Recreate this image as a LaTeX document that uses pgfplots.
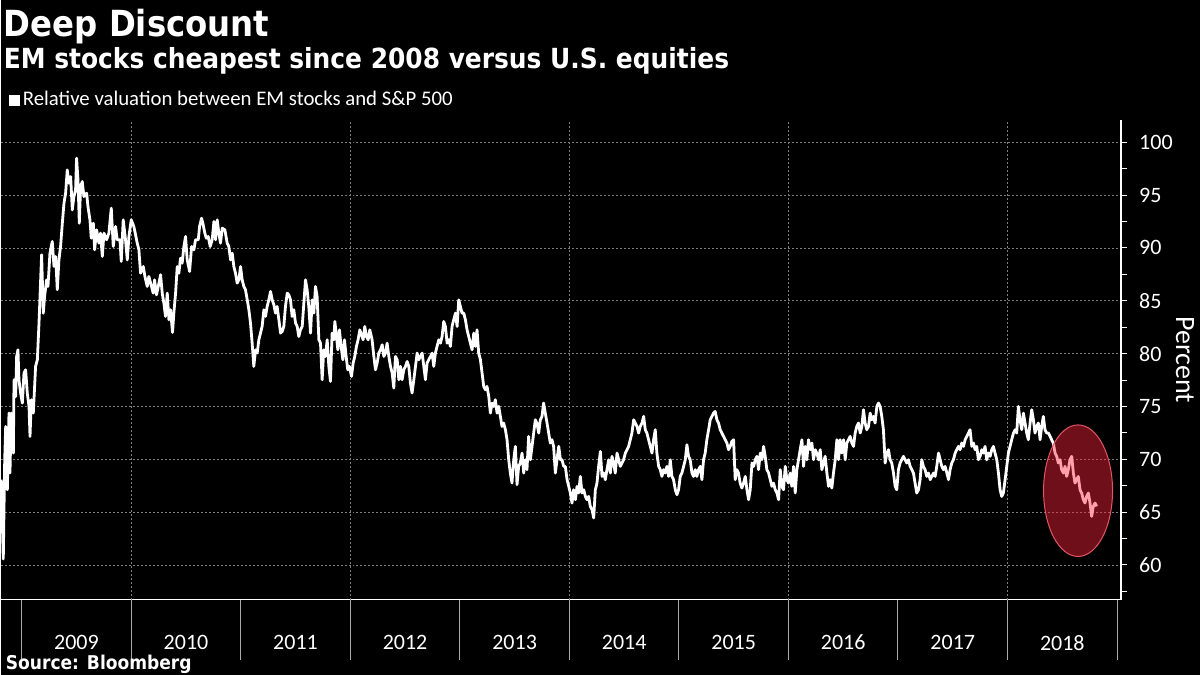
\documentclass[border=0pt]{standalone}
\usepackage{fontspec}
\setmainfont{Carlito}
\newfontfamily\titlefont{DejaVu Sans Condensed}
\usepackage{pgfplots}
\usepackage{pgfplotstable}
\pgfplotsset{compat=1.18}
\definecolor{gridgray}{RGB}{125,125,125}
\definecolor{tickgray}{RGB}{170,170,170}
\definecolor{ellfill}{RGB}{255,35,58}
\definecolor{ellline}{RGB}{225,85,100}

\pgfplotstableread{
year value
2008.814 68.07
2008.832 60.57
2008.845 69.96
2008.854 73.11
2008.869 67.12
2008.884 74.37
2008.893 68.70
2008.905 74.37
2008.924 70.59
2008.930 77.53
2008.945 75.95
2008.954 79.73
2008.966 80.36
2008.975 77.53
2008.990 76.27
2009.006 75.32
2009.021 78.16
2009.036 78.47
2009.051 76.27
2009.067 75.00
2009.076 72.17
2009.088 75.64
2009.106 74.37
2009.127 78.79
2009.143 79.42
2009.158 82.88
2009.173 86.98
2009.182 89.35
2009.197 83.83
2009.209 85.41
2009.228 86.98
2009.240 86.35
2009.258 89.50
2009.279 90.61
2009.295 88.24
2009.310 89.19
2009.325 86.04
2009.340 88.87
2009.355 90.13
2009.371 92.34
2009.386 94.23
2009.401 95.18
2009.416 97.38
2009.431 96.12
2009.447 96.75
2009.462 93.60
2009.477 94.86
2009.492 95.49
2009.501 98.49
2009.514 96.44
2009.526 92.34
2009.538 95.81
2009.553 96.28
2009.568 94.86
2009.593 95.18
2009.605 93.92
2009.623 92.66
2009.635 90.92
2009.654 92.34
2009.666 89.82
2009.684 91.71
2009.705 90.45
2009.720 91.40
2009.736 89.19
2009.751 91.40
2009.775 90.77
2009.796 91.40
2009.818 93.76
2009.836 90.13
2009.857 92.03
2009.872 90.77
2009.897 90.77
2009.909 88.72
2009.927 92.66
2009.948 90.77
2009.964 88.87
2009.979 91.08
2010.000 92.66
2010.024 92.03
2010.055 90.45
2010.070 89.82
2010.085 87.61
2010.110 88.24
2010.125 87.30
2010.146 86.35
2010.161 87.30
2010.177 86.67
2010.201 85.72
2010.213 86.98
2010.231 85.56
2010.253 86.67
2010.268 87.46
2010.283 85.72
2010.298 84.78
2010.313 83.52
2010.329 85.72
2010.344 83.20
2010.359 84.15
2010.377 82.00
2010.389 83.83
2010.405 85.72
2010.420 88.24
2010.435 87.61
2010.450 89.03
2010.465 88.56
2010.481 90.13
2010.496 91.08
2010.511 88.87
2010.533 87.77
2010.551 90.13
2010.572 89.82
2010.587 90.77
2010.612 90.77
2010.624 92.03
2010.642 92.81
2010.654 92.34
2010.672 91.40
2010.685 90.92
2010.703 91.08
2010.721 90.13
2010.739 90.77
2010.755 92.50
2010.770 90.77
2010.785 92.66
2010.800 91.40
2010.815 90.45
2010.831 91.87
2010.855 91.71
2010.876 90.45
2010.891 90.13
2010.907 88.87
2010.922 89.50
2010.937 88.24
2010.952 87.61
2010.967 86.67
2010.983 86.98
2010.998 88.24
2011.013 86.98
2011.028 86.35
2011.043 86.04
2011.059 85.09
2011.074 84.15
2011.089 82.88
2011.104 80.99
2011.119 78.79
2011.135 80.36
2011.150 80.05
2011.165 81.31
2011.180 81.94
2011.195 82.57
2011.211 84.15
2011.226 83.52
2011.241 84.46
2011.256 85.09
2011.272 85.88
2011.287 85.09
2011.302 84.62
2011.317 83.83
2011.332 84.46
2011.348 83.20
2011.363 81.94
2011.378 82.10
2011.393 82.57
2011.408 84.46
2011.424 85.72
2011.439 85.56
2011.454 85.09
2011.469 83.52
2011.484 84.15
2011.500 82.88
2011.515 82.57
2011.530 81.62
2011.545 82.25
2011.561 82.57
2011.576 84.78
2011.591 86.98
2011.606 86.04
2011.621 84.46
2011.637 81.94
2011.652 85.09
2011.667 83.83
2011.682 86.35
2011.697 85.41
2011.713 81.31
2011.728 80.99
2011.743 77.53
2011.758 80.36
2011.773 79.73
2011.789 81.31
2011.804 78.79
2011.819 77.37
2011.834 81.94
2011.849 81.31
2011.859 83.04
2011.871 81.94
2011.886 80.36
2011.901 82.25
2011.916 80.68
2011.932 79.42
2011.947 81.31
2011.962 79.73
2011.977 78.47
2011.992 78.79
2012.011 77.84
2012.026 79.10
2012.041 79.73
2012.056 80.68
2012.071 81.31
2012.087 82.25
2012.102 81.78
2012.117 81.31
2012.132 82.57
2012.147 81.62
2012.163 81.31
2012.178 82.25
2012.199 81.31
2012.215 79.73
2012.230 78.47
2012.245 79.10
2012.260 80.05
2012.276 80.36
2012.291 80.84
2012.306 79.73
2012.321 80.05
2012.336 80.99
2012.352 79.73
2012.367 78.79
2012.382 78.16
2012.397 76.74
2012.412 79.73
2012.428 79.42
2012.443 77.53
2012.458 78.79
2012.473 77.53
2012.488 78.47
2012.504 78.79
2012.519 79.26
2012.534 78.79
2012.549 77.21
2012.564 76.27
2012.580 77.53
2012.595 78.79
2012.610 80.05
2012.625 79.42
2012.640 79.73
2012.656 80.05
2012.671 78.79
2012.686 77.53
2012.701 79.10
2012.716 79.42
2012.732 79.73
2012.747 80.05
2012.762 78.79
2012.777 80.05
2012.792 80.68
2012.808 81.31
2012.823 80.99
2012.838 81.62
2012.853 83.04
2012.868 82.57
2012.884 80.99
2012.899 81.31
2012.914 80.68
2012.929 82.57
2012.944 83.20
2012.960 83.83
2012.975 82.57
2012.990 85.09
2013.005 84.46
2013.020 83.83
2013.036 83.83
2013.051 83.20
2013.066 82.25
2013.081 81.62
2013.096 80.99
2013.112 80.36
2013.127 81.94
2013.142 80.68
2013.157 82.25
2013.172 80.05
2013.188 79.42
2013.203 78.16
2013.218 76.90
2013.233 76.58
2013.248 76.90
2013.264 75.95
2013.279 74.37
2013.294 75.32
2013.309 75.00
2013.324 75.64
2013.340 74.37
2013.355 75.00
2013.370 74.06
2013.385 73.11
2013.400 73.43
2013.416 72.80
2013.431 71.85
2013.446 69.96
2013.461 68.70
2013.476 67.75
2013.492 69.96
2013.507 71.22
2013.522 67.60
2013.537 69.33
2013.552 69.65
2013.568 70.59
2013.583 68.70
2013.598 69.96
2013.613 69.02
2013.628 72.17
2013.644 69.96
2013.659 71.22
2013.674 72.48
2013.689 73.74
2013.704 73.43
2013.720 72.48
2013.735 73.74
2013.750 74.06
2013.765 75.32
2013.780 74.37
2013.796 73.43
2013.811 72.48
2013.826 71.54
2013.841 71.85
2013.856 71.22
2013.872 68.70
2013.887 69.96
2013.903 71.22
2013.918 69.96
2013.933 69.96
2013.948 69.33
2013.963 69.33
2013.979 68.07
2013.994 67.44
2014.009 66.81
2014.024 65.86
2014.039 67.12
2014.055 66.18
2014.070 67.44
2014.085 66.81
2014.100 68.38
2014.115 66.81
2014.131 67.12
2014.146 66.49
2014.161 66.18
2014.176 66.49
2014.191 65.55
2014.207 65.23
2014.222 64.45
2014.237 67.12
2014.252 67.75
2014.267 69.33
2014.283 70.75
2014.298 68.38
2014.313 68.70
2014.328 68.07
2014.343 69.02
2014.359 69.96
2014.374 68.70
2014.389 70.28
2014.404 69.65
2014.419 68.70
2014.435 70.59
2014.450 69.96
2014.465 69.33
2014.480 69.65
2014.495 69.96
2014.511 70.59
2014.526 70.91
2014.541 71.22
2014.556 71.85
2014.571 72.48
2014.587 73.74
2014.602 73.43
2014.617 73.11
2014.632 72.48
2014.647 73.11
2014.663 73.43
2014.678 74.06
2014.693 72.80
2014.708 72.48
2014.723 71.85
2014.739 71.22
2014.754 70.59
2014.769 71.85
2014.784 72.80
2014.799 70.59
2014.815 69.33
2014.830 69.02
2014.845 68.38
2014.860 69.02
2014.875 68.70
2014.891 69.33
2014.906 68.38
2014.921 69.96
2014.936 68.38
2014.951 68.07
2014.967 67.12
2014.982 66.65
2014.997 67.12
2015.012 68.38
2015.027 68.70
2015.043 69.33
2015.058 69.96
2015.073 71.38
2015.088 70.28
2015.103 69.96
2015.119 68.70
2015.134 68.38
2015.149 69.02
2015.164 68.38
2015.179 69.02
2015.195 69.33
2015.210 68.07
2015.225 69.96
2015.240 70.59
2015.255 71.85
2015.271 72.80
2015.286 73.74
2015.301 74.06
2015.316 74.37
2015.331 74.53
2015.347 73.74
2015.362 73.43
2015.377 72.80
2015.392 72.48
2015.407 72.17
2015.423 71.85
2015.438 71.54
2015.453 70.91
2015.468 71.22
2015.483 71.69
2015.499 71.85
2015.514 68.07
2015.529 69.02
2015.544 68.70
2015.559 67.75
2015.575 67.28
2015.590 67.75
2015.606 68.38
2015.621 67.12
2015.636 66.18
2015.651 67.12
2015.667 69.65
2015.682 69.33
2015.697 69.96
2015.712 70.28
2015.727 69.02
2015.743 70.59
2015.758 69.96
2015.773 71.22
2015.788 70.28
2015.803 69.02
2015.819 68.70
2015.834 68.07
2015.849 67.44
2015.864 67.75
2015.879 67.12
2015.895 66.81
2015.910 66.18
2015.925 69.02
2015.940 67.44
2015.955 67.12
2015.971 69.33
2015.986 68.07
2016.001 67.75
2016.016 68.70
2016.031 67.44
2016.047 69.33
2016.062 66.81
2016.077 69.02
2016.092 69.96
2016.107 70.91
2016.123 71.85
2016.138 69.33
2016.153 71.22
2016.168 69.96
2016.183 71.85
2016.199 70.91
2016.214 71.54
2016.229 69.96
2016.244 70.91
2016.259 70.59
2016.275 69.96
2016.290 70.91
2016.305 69.02
2016.320 69.65
2016.335 70.28
2016.351 68.70
2016.366 67.44
2016.381 68.07
2016.396 67.28
2016.411 68.70
2016.427 69.96
2016.442 71.85
2016.457 69.96
2016.472 71.85
2016.487 70.59
2016.503 71.85
2016.518 69.96
2016.533 71.54
2016.548 71.85
2016.563 72.17
2016.579 71.54
2016.594 71.22
2016.609 72.48
2016.624 73.11
2016.639 73.43
2016.655 72.48
2016.670 73.11
2016.685 74.69
2016.700 73.43
2016.715 72.80
2016.731 73.11
2016.746 74.37
2016.761 73.74
2016.776 74.06
2016.791 73.43
2016.807 75.00
2016.822 75.32
2016.837 75.00
2016.852 74.06
2016.867 72.80
2016.883 69.65
2016.898 70.59
2016.913 70.91
2016.928 69.96
2016.943 69.65
2016.959 68.70
2016.974 67.44
2016.989 67.12
2017.004 69.02
2017.019 69.65
2017.035 69.96
2017.050 70.28
2017.065 69.96
2017.080 69.65
2017.095 69.96
2017.111 69.33
2017.126 69.02
2017.141 68.70
2017.156 67.75
2017.171 66.81
2017.187 67.12
2017.202 68.07
2017.217 69.96
2017.232 69.33
2017.247 69.02
2017.263 68.38
2017.278 68.70
2017.294 68.07
2017.309 68.38
2017.324 68.70
2017.339 68.38
2017.354 69.33
2017.370 70.59
2017.385 69.96
2017.400 69.33
2017.415 69.02
2017.430 69.33
2017.446 68.70
2017.461 68.07
2017.476 69.02
2017.491 69.65
2017.506 69.96
2017.522 70.59
2017.537 70.91
2017.552 71.22
2017.567 70.91
2017.582 71.54
2017.598 71.22
2017.613 71.85
2017.628 72.17
2017.643 72.48
2017.658 72.80
2017.674 71.22
2017.689 71.54
2017.704 70.91
2017.719 71.22
2017.734 69.96
2017.750 70.28
2017.765 70.91
2017.780 70.59
2017.795 71.22
2017.810 69.96
2017.826 70.59
2017.841 70.28
2017.856 70.91
2017.871 71.22
2017.886 70.59
2017.902 69.96
2017.917 68.70
2017.932 67.12
2017.947 66.49
2017.962 66.81
2017.978 68.07
2017.993 69.33
2018.008 70.59
2018.023 71.22
2018.038 71.85
2018.054 72.48
2018.069 72.80
2018.084 72.48
2018.099 75.00
2018.114 73.74
2018.130 72.80
2018.145 74.37
2018.160 73.43
2018.175 72.48
2018.190 71.85
2018.206 73.43
2018.221 74.69
2018.236 73.74
2018.251 72.48
2018.266 73.11
2018.282 73.43
2018.297 71.85
2018.312 73.11
2018.327 74.06
2018.342 72.80
2018.358 72.48
2018.373 72.48
2018.388 72.17
2018.403 71.85
2018.418 71.54
2018.434 70.59
2018.449 70.28
2018.464 69.65
2018.479 69.96
2018.494 69.02
2018.510 68.70
2018.525 69.33
2018.540 68.38
2018.555 69.02
2018.570 69.96
2018.586 70.28
2018.601 68.70
2018.616 67.75
2018.631 68.07
2018.646 68.38
2018.662 67.12
2018.677 66.81
2018.692 66.18
2018.707 65.86
2018.722 66.49
2018.738 66.81
2018.753 65.86
2018.768 64.60
2018.783 65.55
2018.799 65.86
2018.814 65.55
}\emdata

\begin{document}
\begin{tikzpicture}
\fill[black] (0pt,0pt) rectangle (1200pt,675pt);
\begin{axis}[
  at={(0pt,75pt)}, anchor=south west,
  scale only axis, width=1121pt, height=480pt,
  xmin=2008.8084, xmax=2019.0365,
  ymin=56.72, ymax=102.11,
  axis x line=bottom, axis y line=right,
  axis line style={white, line width=1.4pt, -},
  /pgf/number format/assume math mode=true,
  xtick={2009.5,2010.5,2011.5,2012.5,2013.5,2014.5,2015.5,2016.5,2017.5,2018.5},
  xticklabels={2009,2010,2011,2012,2013,2014,2015,2016,2017,2018},
  major x tick style={draw=none},
  extra x ticks={2010,2012,2014,2016,2018},
  extra x tick labels={},
  extra x tick style={grid=major, major tick length=0pt},
  xticklabel style={font=\fontsize{22}{22}\selectfont, text=white, anchor=center, inner sep=0pt, yshift=-37pt},
  ytick={60,65,70,75,80,85,90,95,100},
  extra y ticks={57.5,62.5,67.5,72.5,77.5,82.5,87.5,92.5,97.5},
  extra y tick labels={},
  extra y tick style={grid=none},
  tick align=outside,
  major tick length=6pt,
  ytick style={white, line width=1pt},
  yticklabel style={font=\fontsize{22}{22}\selectfont, text=white, anchor=west, inner sep=0pt, xshift=12pt},
  ymajorgrids,
  major grid style={gridgray, dash pattern=on 2pt off 2pt, line width=0.8pt},
]
\addplot[white, line width=2.8pt, line join=round, mark=none] table[x=year, y=value] {\emdata};
\coordinate (ellc) at (axis cs:2018.644,67.03);
\pgfplotsinvokeforeach{2009,2010,2011,2012,2013,2014,2015,2016,2017,2018,2019}{
  \coordinate (b#1) at (axis cs:#1,56.72);
}
\end{axis}
\foreach \yr in {2009,2010,2011,2012,2013,2014,2015,2016,2017,2018,2019}{
  \draw[tickgray, line width=1pt] (b\yr) -- ++(0pt,-60pt);
}
\fill[ellfill, fill opacity=0.43] (ellc) ellipse [x radius=34.5pt, y radius=65.8pt];
\draw[ellline, line width=1pt] (ellc) ellipse [x radius=34.5pt, y radius=65.8pt];
\node[anchor=base west, inner sep=0pt, text=white, font=\titlefont\bfseries\fontsize{36}{36}\selectfont] at (3pt,638pt) {Deep Discount};
\node[anchor=base west, inner sep=0pt, text=white, font=\titlefont\bfseries\fontsize{27.7}{27.7}\selectfont] at (3pt,606pt) {EM stocks cheapest since 2008 versus U.S. equities};
\fill[white] (8pt,569pt) rectangle (19pt,580pt);
\node[anchor=base west, inner sep=0pt, text=white, font=\fontsize{20.8}{20.8}\selectfont] at (22pt,569pt) {Relative valuation between EM stocks and S\&P 500};
\node[anchor=base west, inner sep=0pt, text=white, font=\titlefont\bfseries\fontsize{19}{19}\selectfont] at (5pt,5pt) {Source: Bloomberg};
\node[rotate=-90, inner sep=0pt, text=white, font=\fontsize{28}{28}\selectfont] at (1185pt,315pt) {Percent};
\end{tikzpicture}
\end{document}
